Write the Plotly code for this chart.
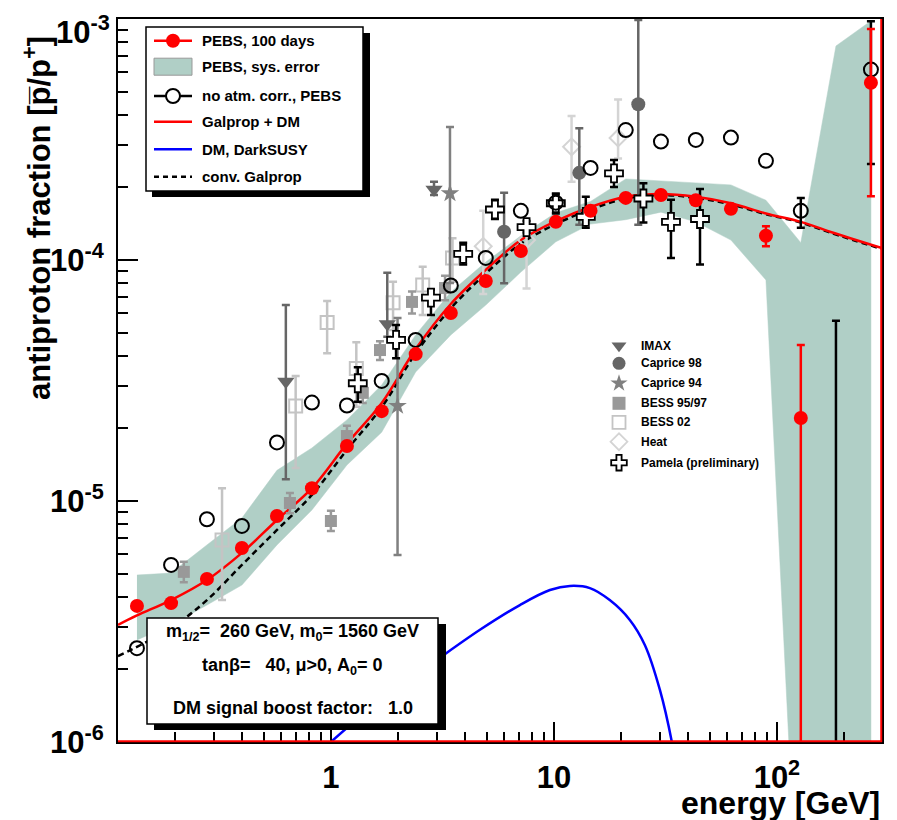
import math
import plotly.graph_objects as go

# ---------------- data ----------------
# PEBS, 100 days (red points)
pebs_E = [0.135, 0.192, 0.278, 0.399, 0.573, 0.822, 1.18, 1.69, 2.40, 3.45, 4.95, 7.11,
          10.2, 14.6, 21.0, 30.2, 43.3, 62.2, 89.3, 128, 264]
pebs_y = [3.67e-6, 3.77e-6, 4.75e-6, 6.38e-6, 8.66e-6, 1.13e-5, 1.69e-5, 2.36e-5, 4.07e-5,
          6.03e-5, 8.18e-5, 1.09e-4, 1.44e-4, 1.60e-4, 1.81e-4, 1.86e-4, 1.77e-4, 1.63e-4,
          1.26e-4, 2.21e-5, 5.44e-4]
pebs_hi = [3.67e-6, 3.77e-6, 4.75e-6, 6.38e-6, 8.66e-6, 1.13e-5, 1.69e-5, 2.36e-5, 4.07e-5,
           6.03e-5, 8.18e-5, 1.09e-4, 1.44e-4, 1.60e-4, 1.81e-4, 1.86e-4, 1.77e-4, 1.63e-4,
           1.38e-4, 4.44e-5, 9.10e-4]
pebs_lo = [3.67e-6, 3.77e-6, 4.75e-6, 6.38e-6, 8.66e-6, 1.13e-5, 1.69e-5, 2.36e-5, 4.07e-5,
           6.03e-5, 8.18e-5, 1.09e-4, 1.44e-4, 1.60e-4, 1.81e-4, 1.86e-4, 1.77e-4, 1.63e-4,
           1.14e-4, 1.0e-7, 1.84e-4]

# PEBS systematic error band
band_E = [0.135, 0.192, 0.278, 0.399, 0.573, 0.822, 1.18, 1.69, 2.40, 3.45, 4.95, 7.11,
          10.2, 14.6, 21.0, 30.2, 43.3, 62.2, 89.3, 128, 184, 264]
band_hi = [4.93e-6, 5.02e-6, 6.57e-6, 8.50e-6, 1.34e-5, 1.66e-5, 2.17e-5, 3.03e-5, 4.89e-5,
           7.36e-5, 9.81e-5, 1.26e-4, 1.57e-4, 1.75e-4, 2.17e-4, 2.13e-4, 2.09e-4, 2.05e-4,
           1.77e-4, 1.18e-4, 7.73e-4, 9.82e-4]
band_lo = [2.65e-6, 3.06e-6, 3.70e-6, 4.48e-6, 6.57e-6, 9.18e-6, 1.41e-5, 1.93e-5, 3.43e-5,
           4.89e-5, 6.50e-5, 8.91e-5, 1.19e-4, 1.41e-4, 1.47e-4, 1.58e-4, 1.44e-4, 1.21e-4,
           8.26e-5, 1.0e-7, 1.0e-7, 1.0e-7]

# no atm. corr., PEBS (open circles)
nac_E = [0.135, 0.192, 0.278, 0.399, 0.573, 0.822, 1.18, 1.69, 2.40, 3.45, 4.95, 7.11,
         10.2, 14.6, 21.0, 30.2, 43.3, 62.2, 89.3, 128, 184, 264]
nac_y = [2.45e-6, 5.43e-6, 8.40e-6, 7.88e-6, 1.75e-5, 2.56e-5, 2.49e-5, 3.15e-5, 4.66e-5,
         7.84e-5, 1.02e-4, 1.60e-4, 1.73e-4, 2.41e-4, 3.46e-4, 3.10e-4, 3.15e-4, 3.22e-4,
         2.58e-4, 1.60e-4, 8.0e-7, 6.17e-4]
nac_hi = [2.45e-6, 5.43e-6, 8.40e-6, 7.88e-6, 1.75e-5, 2.56e-5, 2.49e-5, 3.15e-5, 4.66e-5,
          7.84e-5, 1.02e-4, 1.60e-4, 1.73e-4, 2.41e-4, 3.46e-4, 3.10e-4, 3.15e-4, 3.22e-4,
          2.58e-4, 1.81e-4, 5.6e-5, 9.8e-4]
nac_lo = [2.45e-6, 5.43e-6, 8.40e-6, 7.88e-6, 1.75e-5, 2.56e-5, 2.49e-5, 3.15e-5, 4.66e-5,
          7.84e-5, 1.02e-4, 1.60e-4, 1.73e-4, 2.41e-4, 3.46e-4, 3.10e-4, 3.15e-4, 3.22e-4,
          2.58e-4, 1.36e-4, 8.0e-7, 2.5e-4]

# Galprop + DM (red curve)
gdm_E = [0.111, 0.135, 0.192, 0.278, 0.399, 0.573, 0.822, 1.18, 1.69, 2.40, 3.45, 4.95,
         7.11, 10.2, 14.6, 21.0, 30.2, 43.3, 62.2, 89.3, 128, 173, 296]
gdm_y = [3.06e-6, 3.35e-6, 3.88e-6, 4.70e-6, 6.09e-6, 8.34e-6, 1.13e-5, 1.73e-5, 2.55e-5,
         4.27e-5, 6.57e-5, 9.10e-5, 1.21e-4, 1.45e-4, 1.66e-4, 1.83e-4, 1.88e-4, 1.83e-4,
         1.72e-4, 1.56e-4, 1.44e-4, 1.31e-4, 1.12e-4]

# conventional Galprop (dashed)
cg_E = [0.111, 0.192, 0.278, 0.399, 0.573, 0.822, 1.18, 1.69, 2.40, 3.45, 4.95, 7.11,
        10.2, 14.6, 21.0, 30.2, 43.3, 62.2, 89.3, 128, 173, 296]
cg_y = [2.27e-6, 2.97e-6, 3.88e-6, 5.43e-6, 7.58e-6, 1.06e-5, 1.63e-5, 2.45e-5, 4.10e-5,
        6.30e-5, 8.80e-5, 1.17e-4, 1.41e-4, 1.62e-4, 1.80e-4, 1.86e-4, 1.81e-4, 1.70e-4,
        1.55e-4, 1.43e-4, 1.30e-4, 1.11e-4]

# DM, DarkSUSY (blue)
dm_E = [1.0, 1.66, 2.78, 4.66, 7.04, 9.6, 11.8, 14.5, 17.8, 21.9, 25.6, 29.9, 33.8, 36.0]
dm_y = [1.0e-6, 1.49e-6, 2.09e-6, 2.92e-6, 3.70e-6, 4.27e-6, 4.44e-6, 4.35e-6, 3.88e-6,
        3.21e-6, 2.52e-6, 1.64e-6, 1.0e-6, 7.0e-7]

# other experiments
imax_E = [0.628, 1.79, 2.90]
imax_y = [3.13e-5, 5.42e-5, 1.96e-4]
imax_hi = [6.5e-5, 8.86e-5, 2.11e-4]
imax_lo = [1.23e-5, 4.8e-5, 1.86e-4]

cap98_E = [5.98, 13.0, 23.9]
cap98_y = [1.31e-4, 2.30e-4, 4.43e-4]
cap98_hi = [1.90e-4, 3.52e-4, 9.9e-4]
cap98_lo = [8.0e-5, 1.40e-4, 1.40e-4]

cap94_E = [1.99, 3.42]
cap94_y = [2.48e-5, 1.89e-4]
cap94_hi = [5.74e-5, 3.56e-4]
cap94_lo = [5.97e-6, 8.03e-5]

bess9597_E = [0.219, 0.655, 1.0, 1.18, 1.39, 1.66, 2.31, 3.25]
bess9597_y = [5.08e-6, 9.81e-6, 8.26e-6, 1.86e-5, 2.81e-5, 4.23e-5, 6.70e-5, 7.65e-5]
bess9597_hi = [5.6e-6, 1.08e-5, 9.1e-6, 2.05e-5, 3.1e-5, 4.6e-5, 7.4e-5, 8.6e-5]
bess9597_lo = [4.6e-6, 8.9e-6, 7.5e-6, 1.68e-5, 2.55e-5, 3.85e-5, 6.0e-5, 6.8e-5]

bess02_E = [0.325, 0.695, 0.962, 1.30, 1.90, 2.58, 3.51]
bess02_y = [6.89e-6, 2.48e-5, 5.51e-5, 3.55e-5, 6.65e-5, 7.87e-5, 1.02e-4]
bess02_hi = [1.13e-5, 3.30e-5, 6.76e-5, 4.56e-5, 8.13e-5, 9.38e-5, 1.23e-4]
bess02_lo = [3.88e-6, 1.37e-5, 4.10e-5, 2.46e-5, 5.12e-5, 5.91e-5, 8.13e-5]

heat_E = [4.82, 7.54, 12.0, 19.4]
heat_y = [1.14e-4, 1.21e-4, 2.95e-4, 3.21e-4]
heat_hi = [1.60e-4, 1.37e-4, 3.96e-4, 4.64e-4]
heat_lo = [7.22e-5, 7.62e-5, 2.11e-4, 2.64e-4]

pam_E = [1.32, 1.96, 2.81, 3.92, 5.44, 7.54, 10.2, 13.9, 18.6, 25.2, 33.5, 45.2]
pam_y = [3.08e-5, 4.66e-5, 6.98e-5, 1.06e-4, 1.62e-4, 1.37e-4, 1.72e-4, 1.51e-4, 2.29e-4,
         1.80e-4, 1.44e-4, 1.48e-4]
pam_hi = [3.59e-5, 5.37e-5, 7.55e-5, 1.18e-4, 1.78e-4, 1.45e-4, 1.89e-4, 1.83e-4, 2.60e-4,
          2.08e-4, 1.78e-4, 1.97e-4]
pam_lo = [2.58e-5, 3.91e-5, 5.91e-5, 9.59e-5, 1.48e-4, 1.30e-4, 1.56e-4, 1.36e-4, 2.01e-4,
          1.43e-4, 1.02e-4, 9.59e-5]

legend_main = ["PEBS, 100 days", "PEBS, sys. error", "no atm. corr., PEBS",
               "Galprop + DM", "DM, DarkSUSY", "conv. Galprop"]
legend_exp = ["IMAX", "Caprice 98", "Caprice 94", "BESS 95/97", "BESS 02", "Heat",
              "Pamela (preliminary)"]
param_lines = ["m<sub>1/2</sub>=\u00a0 260 GeV, m<sub>0</sub>= 1560 GeV",
               "tan\u03b2=\u00a0\u00a0 40, \u03bc>0, A<sub>0</sub>= 0",
               "DM signal boost factor:\u00a0\u00a0 1.0"]
y_tickvals = [1e-6, 1e-5, 1e-4, 1e-3]
y_ticktext = ["10<sup>-6</sup>", "10<sup>-5</sup>", "10<sup>-4</sup>", ""]
y_top_label = "10<sup>-3</sup>"
x_tickvals = [1, 10, 100]
x_ticktext = ["1", "10", "10<sup>2</sup>"]

# ---------------- styling / layout ----------------
W, H = 897, 820
L, R, T, B = 118, 882, 19, 742
FONT = "Liberation Sans"
TEAL = "rgb(176,207,198)"


def px(x):
    return (x - L) / (R - L)


def py(y):
    return (B - y) / (B - T)


fig = go.Figure()


def add_points(E, y, hi, lo, marker, ecolor, thick=2.5, capw=4):
    """Error bars (only where they exist) drawn first, markers on top."""
    idx = [i for i in range(len(E)) if not (hi[i] == y[i] and lo[i] == y[i])]
    if idx:
        fig.add_trace(go.Scatter(
            x=[E[i] for i in idx], y=[y[i] for i in idx], mode="markers",
            marker=dict(size=1, opacity=0),
            error_y=dict(type="data", symmetric=False,
                         array=[hi[i] - y[i] for i in idx],
                         arrayminus=[y[i] - lo[i] for i in idx],
                         color=ecolor, thickness=thick, width=capw)))
    fig.add_trace(go.Scatter(x=E, y=y, mode="markers", marker=marker))


# band
fig.add_trace(go.Scatter(x=band_E + band_E[::-1], y=band_hi + band_lo[::-1],
                         mode="lines", fill="toself", fillcolor=TEAL,
                         line=dict(color=TEAL, width=0.5), hoverinfo="skip"))
# DM blue
fig.add_trace(go.Scatter(x=dm_E, y=dm_y, mode="lines", line=dict(color="#0000ff", width=2.5,
                                                                 shape="spline")))
# conventional galprop dashed
fig.add_trace(go.Scatter(x=cg_E, y=cg_y, mode="lines",
                         line=dict(color="black", width=2.5, dash="6px,4px", shape="spline")))
# galprop + DM red
fig.add_trace(go.Scatter(x=gdm_E, y=gdm_y, mode="lines",
                         line=dict(color="#ff0000", width=2.5, shape="spline")))

# experiments
add_points(bess02_E, bess02_y, bess02_hi, bess02_lo,
           dict(symbol="square-open", size=13, color="#c4c4c4",
                line=dict(width=2, color="#c4c4c4")), "#c4c4c4")
add_points(heat_E, heat_y, heat_hi, heat_lo,
           dict(symbol="diamond-open", size=13, color="#d4d4d4",
                line=dict(width=2, color="#d4d4d4")), "#d4d4d4")
add_points(bess9597_E, bess9597_y, bess9597_hi, bess9597_lo,
           dict(symbol="square", size=12, color="#999999"), "#999999")
add_points(cap94_E, cap94_y, cap94_hi, cap94_lo,
           dict(symbol="star", size=14, color="#808080"), "#808080")
add_points(imax_E, imax_y, imax_hi, imax_lo,
           dict(symbol="triangle-down", size=15, color="#666666"), "#666666")
add_points(cap98_E, cap98_y, cap98_hi, cap98_lo,
           dict(symbol="circle", size=14, color="#666666"), "#666666")
add_points(pam_E, pam_y, pam_hi, pam_lo,
           dict(symbol="cross", size=15, color="white", line=dict(width=1.8, color="black")),
           "black")
add_points(nac_E, nac_y, nac_hi, nac_lo,
           dict(symbol="circle-open", size=14, color="black", line=dict(width=2, color="black")),
           "black")
add_points(pebs_E, pebs_y, pebs_hi, pebs_lo,
           dict(symbol="circle", size=14, color="#ff0000"), "#ff0000")

shapes = []
annotations = []

# ---- main legend box ----
bx0, by0, bx1, by1 = 146, 27, 363, 191
shapes.append(dict(type="rect", xref="paper", yref="paper", layer="below",
                   x0=px(bx0 + 6), x1=px(bx1 + 7), y0=py(by0 + 6), y1=py(by1 + 6),
                   fillcolor="black", line=dict(width=0)))
shapes.append(dict(type="rect", xref="paper", yref="paper", layer="below",
                   x0=px(bx0), x1=px(bx1), y0=py(by0), y1=py(by1),
                   fillcolor="white", line=dict(color="black", width=1.5)))
leg_y = [40.7, 66.7, 96, 121.7, 149.3, 176.7]
lx0, lx1, lxm, ltx = 154, 192, 173, 200
line_styles = [("#ff0000", None), None, ("black", None), ("#ff0000", None),
               ("#0000ff", None), ("black", "dash")]
for i, st in enumerate(line_styles):
    if st is None:
        shapes.append(dict(type="rect", xref="paper", yref="paper", layer="below",
                           x0=px(lx0), x1=px(lx1), y0=py(leg_y[i] - 8.5), y1=py(leg_y[i] + 8.5),
                           fillcolor=TEAL, line=dict(color="#999999", width=1)))
    else:
        shapes.append(dict(type="line", xref="paper", yref="paper", layer="below",
                           x0=px(lx0), x1=px(lx1), y0=py(leg_y[i]), y1=py(leg_y[i]),
                           line=dict(color=st[0], width=2.5,
                                     dash="5px,4px" if st[1] else "solid")))
    annotations.append(dict(text=legend_main[i], xref="paper", yref="paper",
                            x=px(ltx), y=py(leg_y[i]), xanchor="left", yanchor="middle",
                            showarrow=False,
                            font=dict(family=FONT, size=15, color="black", weight="bold")))

# legend markers on an overlay axis (fraction of plot area)
fig.add_trace(go.Scatter(x=[px(lxm)], y=[py(leg_y[0])], xaxis="x2", yaxis="y2", mode="markers",
                         marker=dict(symbol="circle", size=14, color="#ff0000")))
fig.add_trace(go.Scatter(x=[px(lxm)], y=[py(leg_y[2])], xaxis="x2", yaxis="y2", mode="markers",
                         marker=dict(symbol="circle", size=14, color="white",
                                     line=dict(width=2, color="black"))))

# ---- experiment legend ----
ex_y = [345.7, 363.3, 383.3, 403.3, 422.3, 441.7, 462.7]
ex_sym = ["triangle-down", "circle", "star", "square", "square-open", "diamond-open", "cross"]
ex_col = ["#666666", "#666666", "#808080", "#999999", "#c4c4c4", "#d4d4d4", "white"]
ex_line = [None, None, None, None, "#c4c4c4", "#d4d4d4", "black"]
for i in range(len(legend_exp)):
    mk = dict(symbol=ex_sym[i], size=13, color=ex_col[i])
    if ex_line[i]:
        mk["line"] = dict(width=1.8, color=ex_line[i])
    fig.add_trace(go.Scatter(x=[px(619)], y=[py(ex_y[i])], xaxis="x2", yaxis="y2",
                             mode="markers", marker=mk))
    annotations.append(dict(text=legend_exp[i], xref="paper", yref="paper",
                            x=px(639), y=py(ex_y[i]), xanchor="left", yanchor="middle",
                            showarrow=False,
                            font=dict(family=FONT, size=12, color="black", weight="bold")))

# ---- parameter box ----
qx0, qy0, qx1, qy1 = 147, 618, 438, 724
shapes.append(dict(type="rect", xref="paper", yref="paper", layer="above",
                   x0=px(qx0 + 7), x1=px(qx1 + 8), y0=py(qy0 + 6), y1=py(qy1 + 6),
                   fillcolor="black", line=dict(width=0)))
shapes.append(dict(type="rect", xref="paper", yref="paper", layer="above",
                   x0=px(qx0), x1=px(qx1), y0=py(qy0), y1=py(qy1),
                   fillcolor="white", line=dict(color="black", width=1.5)))
for txt, yy in zip(param_lines, [632, 666, 708]):
    annotations.append(dict(text=txt, xref="paper", yref="paper",
                            x=px((qx0 + qx1) / 2), y=py(yy), xanchor="center", yanchor="middle",
                            showarrow=False,
                            font=dict(family=FONT, size=18, color="black", weight="bold")))

# red closing lines (bottom and right edge)
shapes.append(dict(type="line", xref="paper", yref="paper", layer="above",
                   x0=0, x1=1, y0=0.001, y1=0.001, line=dict(color="#ff0000", width=2)))
shapes.append(dict(type="line", xref="paper", yref="paper", layer="above",
                   x0=0.999, x1=0.999, y0=0, y1=1, line=dict(color="#ff0000", width=2)))

tickfont = dict(family=FONT, size=31, color="black", weight="bold")

# top y label, kept inside the page as in the original
annotations.append(dict(text=y_top_label, xref="paper", yref="paper", x=px(112), y=py(30),
                        xanchor="right", yanchor="middle", showarrow=False, font=tickfont))

# axis titles
annotations.append(dict(text="antiproton fraction [p\u0305/p<sup>+</sup>]", xref="paper",
                        yref="paper", x=px(37), y=py(218), xanchor="center", yanchor="middle",
                        textangle=-90, showarrow=False,
                        font=dict(family=FONT, size=31, color="black", weight="bold")))
annotations.append(dict(text="energy [GeV]", xref="paper", yref="paper",
                        x=1.0, y=py(803), xanchor="right", yanchor="middle", showarrow=False,
                        font=dict(family=FONT, size=32, color="black", weight="bold")))

x_minor = [m * 10 ** k for k in range(-1, 3) for m in range(2, 10)]
y_minor = [m * 10 ** k for k in range(-6, -3) for m in range(2, 10)]

fig.update_layout(
    width=W, height=H, margin=dict(l=L, r=W - R, t=T, b=H - B, autoexpand=False),
    paper_bgcolor="white", plot_bgcolor="white", showlegend=False,
    xaxis=dict(type="log", range=[math.log10(0.111), math.log10(296)],
               showline=True, linecolor="black", linewidth=2, mirror=True,
               ticks="inside", ticklen=20, tickwidth=1.5, tickcolor="black",
               tickvals=x_tickvals, ticktext=x_ticktext, tickfont=tickfont,
               ticklabelstandoff=7, ticklabeloverflow="allow", automargin=False,
               minor=dict(ticks="inside", ticklen=10, tickwidth=1.5, tickcolor="black",
                          tickvals=x_minor),
               showgrid=False, zeroline=False),
    yaxis=dict(type="log", range=[-6.0001, -2.9999],
               showline=True, linecolor="black", linewidth=2, mirror=True,
               ticks="inside", ticklen=20, tickwidth=1.5, tickcolor="black",
               tickvals=y_tickvals, ticktext=y_ticktext, tickfont=tickfont,
               ticklabelstandoff=6, ticklabeloverflow="allow", automargin=False,
               minor=dict(ticks="inside", ticklen=10, tickwidth=1.5, tickcolor="black",
                          tickvals=y_minor),
               showgrid=False, zeroline=False),
    xaxis2=dict(overlaying="x", range=[0, 1], visible=False, fixedrange=True),
    yaxis2=dict(overlaying="y", range=[0, 1], visible=False, fixedrange=True),
    shapes=shapes, annotations=annotations,
)

fig.write_html("out.html")
